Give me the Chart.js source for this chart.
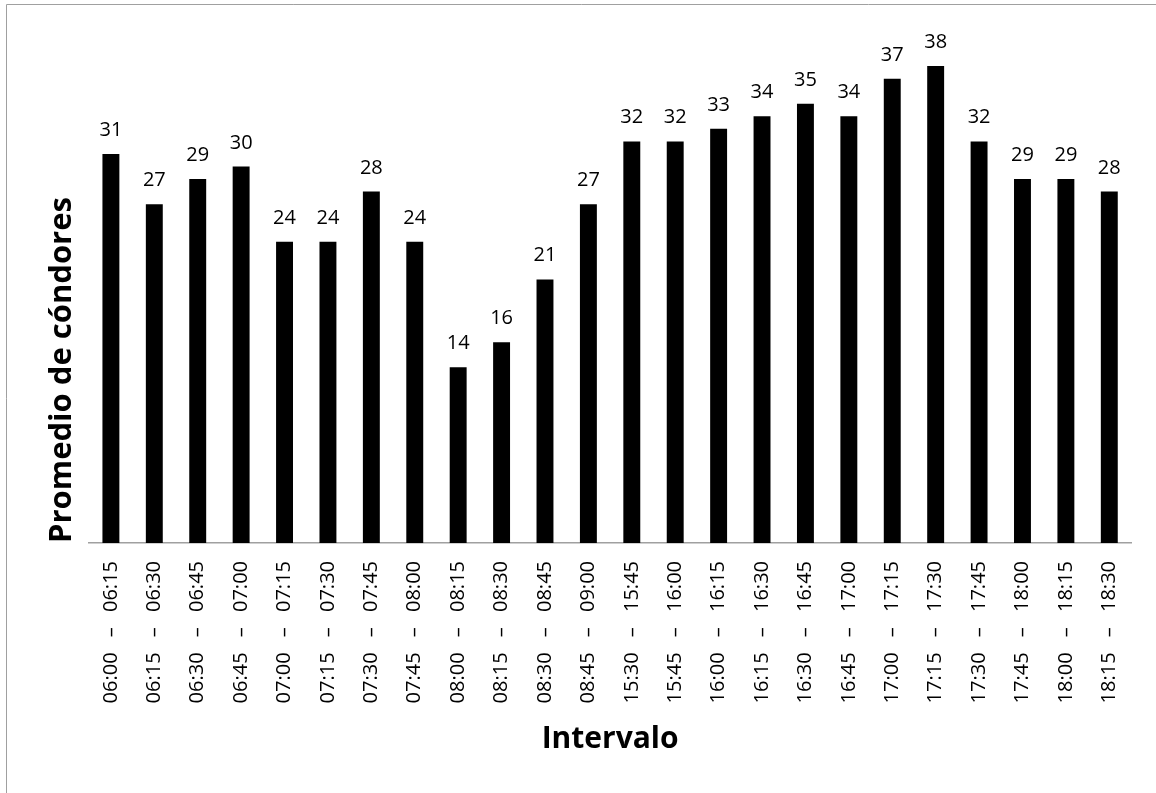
<!DOCTYPE html>
<html>
<head>
<meta charset="utf-8">
<script src="https://cdn.jsdelivr.net/npm/chart.js@4"></script>
<style>
  html, body { margin: 0; padding: 0; background: #ffffff; }
  #wrap { position: relative; width: 1156px; height: 793px; }
  canvas { display: block; }
</style>
</head>
<body>
<div id="wrap"><canvas id="chart" width="1156" height="793"></canvas></div>
<script>
// Interval bounds (15-minute counting windows)
const intervalStart = ['06:00','06:15','06:30','06:45','07:00','07:15','07:30','07:45','08:00','08:15','08:30','08:45',
                       '15:30','15:45','16:00','16:15','16:30','16:45','17:00','17:15','17:30','17:45','18:00','18:15'];
const intervalEnd   = ['06:15','06:30','06:45','07:00','07:15','07:30','07:45','08:00','08:15','08:30','08:45','09:00',
                       '15:45','16:00','16:15','16:30','16:45','17:00','17:15','17:30','17:45','18:00','18:15','18:30'];

// Average number of condors per interval
const promedio = [31, 27, 29, 30, 24, 24, 28, 24, 14, 16, 21, 27,
                  32, 32, 33, 34, 35, 34, 37, 38, 32, 29, 29, 28];

const SEP = ' \u2002–\u2002 ';
const categories = intervalStart.map((s, i) => s + SEP + intervalEnd[i]);

const FONT = '"Open Sans", "DejaVu Sans", sans-serif';

// Value labels above each bar
const valueLabels = {
  id: 'valueLabels',
  afterDatasetsDraw(chart) {
    const ctx = chart.ctx;
    const meta = chart.getDatasetMeta(0);
    ctx.save();
    ctx.font = '20px ' + FONT;
    ctx.fillStyle = '#000000';
    ctx.textAlign = 'center';
    ctx.textBaseline = 'alphabetic';
    meta.data.forEach((bar, i) => {
      ctx.fillText(String(chart.data.datasets[0].data[i]), bar.x, bar.y - 18);
    });
    ctx.restore();
  }
};

// Thin frame along the top and left edges of the chart object
const frame = {
  id: 'frame',
  beforeDraw(chart) {
    const ctx = chart.ctx;
    ctx.save();
    ctx.strokeStyle = '#a0a0a0';
    ctx.lineWidth = 1;
    ctx.beginPath();
    ctx.moveTo(6.5, chart.height);
    ctx.lineTo(6.5, 4.5);
    ctx.lineTo(chart.width, 4.5);
    ctx.stroke();
    ctx.restore();
  }
};

new Chart(document.getElementById('chart'), {
  type: 'bar',
  data: {
    labels: categories,
    datasets: [{
      data: promedio,
      backgroundColor: '#000000',
      borderWidth: 0,
      categoryPercentage: 1.0,
      barPercentage: 0.39
    }]
  },
  options: {
    responsive: false,
    animation: false,
    layout: { padding: { left: 44, right: 25, top: 41, bottom: 36 } },
    plugins: {
      legend: { display: false },
      tooltip: { enabled: false }
    },
    scales: {
      x: {
        // fixed band for the rotated interval labels and the axis title
        afterFit(scale) { scale.height = 214; },
        grid: { display: false, drawTicks: false },
        border: { display: true, color: '#a0a0a0', width: 1.5 },
        ticks: {
          autoSkip: false,
          minRotation: 90,
          maxRotation: 90,
          padding: 18,
          color: '#000000',
          font: { family: FONT, size: 20 }
        },
        title: {
          display: true,
          text: 'Intervalo',
          color: '#000000',
          font: { family: FONT, size: 30, weight: 'bold' },
          padding: { top: 6, bottom: 0 }
        }
      },
      y: {
        min: 0,
        max: 40,
        grid: { display: false, drawTicks: false },
        border: { display: false },
        ticks: { display: false },
        title: {
          display: true,
          align: 'start',
          text: 'Promedio de cóndores',
          color: '#000000',
          font: { family: FONT, size: 31, weight: 'bold' },
          padding: { top: 0, bottom: 8 }
        }
      }
    }
  },
  plugins: [frame, valueLabels]
});
</script>
</body>
</html>
